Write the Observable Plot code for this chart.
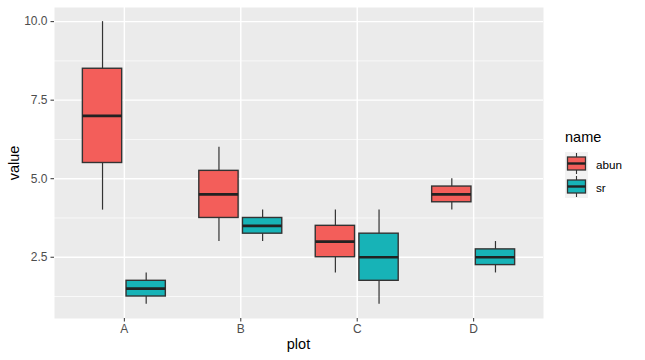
<!DOCTYPE html>
<html><head>
<meta charset="utf-8">
<script src="https://cdn.jsdelivr.net/npm/d3@7"></script>
<script src="https://cdn.jsdelivr.net/npm/@observablehq/plot@0.6"></script>
<style>
body{margin:0;background:#fff;font-family:"Liberation Sans",Arial,sans-serif}
#wrap{position:relative;width:645px;height:360px}
.t{position:absolute;color:#000;white-space:nowrap}
</style>
</head><body>
<div id="wrap"></div>
<script>
// categories
const plots = ["A","B","C","D"];
const names = ["abun","sr"];
const colors = ["#F35E5A","#17B3B7"];
// five-number summaries per series (order follows plots)
const abunMin = [4, 3, 2, 4];
const abunQ1  = [5.5, 3.75, 2.5, 4.25];
const abunMed = [7, 4.5, 3, 4.5];
const abunQ3  = [8.5, 5.25, 3.5, 4.75];
const abunMax = [10, 6, 4, 5];
const srMin = [1, 3, 1, 2];
const srQ1  = [1.25, 3.25, 1.75, 2.25];
const srMed = [1.5, 3.5, 2.5, 2.5];
const srQ3  = [1.75, 3.75, 3.25, 2.75];
const srMax = [2, 4, 4, 3];
// axis ticks
const yTicks = [2.5, 5, 7.5, 10];
const yMinor = [1.25, 3.75, 6.25, 8.75];

const series = [
  {name: "abun", min: abunMin, q1: abunQ1, med: abunMed, q3: abunQ3, max: abunMax},
  {name: "sr", min: srMin, q1: srQ1, med: srMed, q3: srQ3, max: srMax}
];
const slot = 0.75 / 4;      // dodge offset per box
const half = slot * 0.9;    // box half-width (dodge2 padding 0.1)
const rows = [];
plots.forEach((p, i) => series.forEach((s, j) => {
  const xc = i + 1 + (j === 0 ? -slot : slot);
  rows.push({plot: p, name: s.name, x: xc, x1: xc - half, x2: xc + half,
    min: s.min[i], q1: s.q1[i], med: s.med[i], q3: s.q3[i], max: s.max[i]});
}));
const xPos = plots.map((p, i) => i + 1);

const chart = Plot.plot({
  width: 645, height: 360,
  marginLeft: 54, marginTop: 7, marginBottom: 42, marginRight: 102,
  style: {fontFamily: '"Liberation Sans",Arial,sans-serif', fontSize: "12px", background: "transparent"},
  x: {type: "linear", domain: [0.4, 4.6], axis: null},
  y: {domain: [0.55, 10.45], axis: null},
  color: {domain: names, range: colors},
  marks: [
    Plot.frame({fill: "#EBEBEB", stroke: null}),
    Plot.ruleY(yMinor, {stroke: "#fff", strokeWidth: 0.7}),
    Plot.ruleY(yTicks, {stroke: "#fff", strokeWidth: 1.4}),
    Plot.ruleX(xPos, {stroke: "#fff", strokeWidth: 1.4}),
    Plot.ruleX(rows, {x: "x", y1: "min", y2: "max", stroke: "#333", strokeWidth: 1.2}),
    Plot.rect(rows, {x1: "x1", x2: "x2", y1: "q1", y2: "q3", fill: "name", stroke: "#333", strokeWidth: 1.4}),
    Plot.ruleY(rows, {x1: "x1", x2: "x2", y: "med", stroke: "#222", strokeWidth: 2.7}),
    Plot.axisY(yTicks, {tickFormat: d3.format(".1f"), tickSize: 3.5, tickPadding: 3.5, stroke: "#333", fill: "#4D4D4D", label: null}),
    Plot.axisX(xPos, {tickFormat: d => plots[d - 1], tickSize: 3.5, tickPadding: 2, stroke: "#333", fill: "#4D4D4D", label: null})
  ]
});
const wrap = document.getElementById("wrap");
chart.style.position = "absolute";
chart.style.left = "0"; chart.style.top = "0";
wrap.appendChild(chart);

function addText(txt, css) {
  const d = document.createElement("div");
  d.className = "t"; d.textContent = txt;
  Object.assign(d.style, css);
  wrap.appendChild(d);
  return d;
}
addText("plot", {top: "336px", fontSize: "14.5px", transform: "translateX(-50%)", left: "298.5px"});
addText("value", {left: "14px", top: "163px", fontSize: "14.5px", transform: "translate(-50%,-50%) rotate(-90deg)"});
addText("name", {left: "565px", top: "129px", fontSize: "14.5px"});

// legend keys
names.forEach((n, j) => {
  const top = 152 + j * 23;
  const svg = d3.create("svg").attr("width", 24).attr("height", 23)
    .style("position", "absolute").style("left", "565px").style("top", top + "px");
  svg.append("rect").attr("x", 0).attr("y", 0).attr("width", 23).attr("height", 23).attr("fill", "#F2F2F2");
  svg.append("line").attr("x1", 11.5).attr("x2", 11.5).attr("y1", 1).attr("y2", 22).attr("stroke", "#333").attr("stroke-width", 1.1);
  svg.append("rect").attr("x", 2.5).attr("y", 5).attr("width", 18).attr("height", 13)
    .attr("fill", colors[j]).attr("stroke", "#333").attr("stroke-width", 1.3);
  svg.append("line").attr("x1", 2.5).attr("x2", 20.5).attr("y1", 11.5).attr("y2", 11.5).attr("stroke", "#222").attr("stroke-width", 2.4);
  wrap.appendChild(svg.node());
  addText(n, {left: "596px", top: (top + 11.5) + "px", fontSize: "11.7px", transform: "translateY(-50%)"});
});
</script>
</body></html>
